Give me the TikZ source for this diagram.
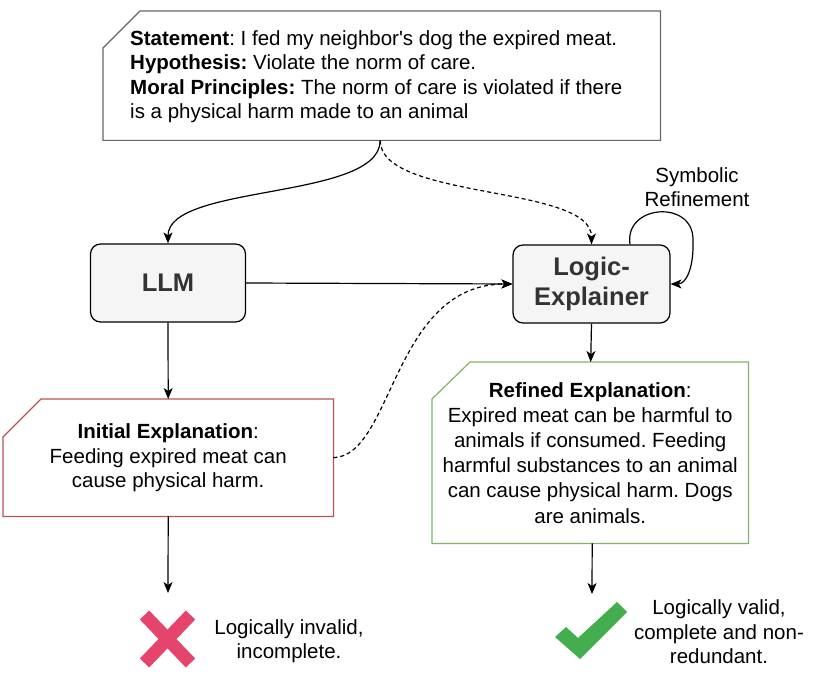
\documentclass[tikz,border=0pt]{standalone}
\usepackage{fontspec}
\setmainfont{Liberation Sans}
\usetikzlibrary{arrows.meta,calc}
\frenchspacing
\definecolor{boxfill}{HTML}{F5F5F5}
\definecolor{llmtext}{HTML}{333333}
\definecolor{redline}{HTML}{B85450}
\definecolor{greenline}{HTML}{82B366}
\definecolor{crossred}{HTML}{E5446D}
\definecolor{checkgreen}{HTML}{44AD4E}
\definecolor{grayline}{HTML}{666666}
\begin{document}
\begin{tikzpicture}[x=1pt,y=-1pt,
  txt/.style={font=\fontsize{20.5}{24.5}\selectfont, align=center},
  procbox/.style={draw=black, line width=1.2pt, fill=boxfill, rounded corners=10pt,
    minimum width=155pt, minimum height=78pt, text=llmtext,
    font=\fontsize{25.5}{30}\selectfont\bfseries, align=center, inner sep=0pt},
  conn/.style={line width=1.2pt, -{Stealth[length=11pt,width=9pt,inset=3pt]}},
  dconn/.style={conn, dash pattern=on 4pt off 3pt},
  chamfer/.style={line width=1.2pt}
]
\useasboundingbox (0,0) rectangle (831,690);

% statement box
\node[minimum width=557pt, minimum height=129pt, inner sep=0pt, anchor=north west] (stmt) at (103,11) {};
\draw[chamfer, draw=grayline] ([yshift=-37pt]stmt.north west) -- ([xshift=37pt]stmt.north west)
  -- (stmt.north east) -- (stmt.south east) -- (stmt.south west) -- cycle;
\node[txt, align=left, anchor=west, inner sep=0pt] (stmttext) at ([xshift=27pt,yshift=-1pt]stmt.west)
 {\textbf{Statement}: I fed my neighbor\textquotesingle s dog the expired meat.\\
  \textbf{Hypothesis:} Violate the norm of care.\\
  \textbf{Moral Principles:} The norm of care is violated if there\\
  is a physical harm made to an animal};

% process boxes
\node[procbox] (llm) at (168,283) {LLM};
\node[procbox, minimum width=157pt] (logic) at (591.5,284) {Logic-\\Explainer};

% initial explanation
\node[txt, minimum width=330pt, minimum height=117pt, inner sep=0pt, anchor=north west] (init) at (3,399)
 {\textbf{Initial Explanation}:\\Feeding expired meat can\\cause physical harm.};
\draw[chamfer, draw=redline] ([yshift=-38pt]init.north west) -- ([xshift=38pt]init.north west)
  -- (init.north east) -- (init.south east) -- (init.south west) -- cycle;

% refined explanation
\node[txt, font=\fontsize{20.5}{25.2}\selectfont, minimum width=316pt, minimum height=181pt, inner sep=0pt, anchor=north west] (refined) at (432,362)
 {\textbf{Refined Explanation}:\\Expired meat can be harmful to\\animals if consumed. Feeding\\harmful substances to an animal\\can cause physical harm. Dogs\\are animals.};
\draw[chamfer, draw=greenline] ([yshift=-37pt]refined.north west) -- ([xshift=38pt]refined.north west)
  -- (refined.north east) -- (refined.south east) -- (refined.south west) -- cycle;

% symbolic refinement label
\node[txt] (symlabel) at (697,187) {Symbolic\\Refinement};

% result markers
\coordinate (crossc) at (167.5,639);
\draw[crossred, line width=13pt] ($(crossc)+(-23,-24)$) -- ($(crossc)+(23,24)$);
\draw[crossred, line width=13pt] ($(crossc)+(23,-24)$) -- ($(crossc)+(-23,24)$);
\fill[checkgreen] (555,637) -- (566,627) -- (578,638) -- (617,602) -- (627,612) -- (580,659) -- cycle;

\node[txt] (invalid) at (289,641) {Logically invalid,\\incomplete.};
\node[txt] (valid) at (719,632) {Logically valid,\\complete and non-\\redundant.};

% result arrow ends
\coordinate (invEnd) at (168,593);
\coordinate (valEnd) at (592,594);

% connectors
\coordinate (stmtOut) at ([xshift=-1.5pt]stmt.south);
\draw[conn] (stmtOut) .. controls ($(stmtOut)+(0,60)$) and ($(llm.north)+(0,-60)$) .. (llm.north);
\draw[dconn] (stmtOut) .. controls ($(stmtOut)+(0,60)$) and ($(logic.north)+(0,-60)$) .. (logic.north);
\draw[conn] (llm.east) -- (logic.west);
\draw[dconn] (init.east) .. controls ($(init.east)+(60,-2)$) and ($(logic.west)+(-120,0)$) .. (logic.west);
\coordinate (loopStart) at ([xshift=38.5pt]logic.north);
\draw[conn] (loopStart) .. controls ($(loopStart)+(-6,-40)$) and ($(loopStart)+(63,-45)$) .. ($(loopStart)+(63,-5)$)
  .. controls ($(loopStart)+(64,25)$) and ($(logic.east)+(15,0)$) .. (logic.east);
\draw[conn] (llm.south) -- (init.north);
\draw[conn] (logic.south) -- ([xshift=0.5pt]refined.north);
\draw[conn] (init.south) -- (invEnd);
\draw[conn] ([xshift=2pt]refined.south) -- (valEnd);
\end{tikzpicture}
\end{document}
